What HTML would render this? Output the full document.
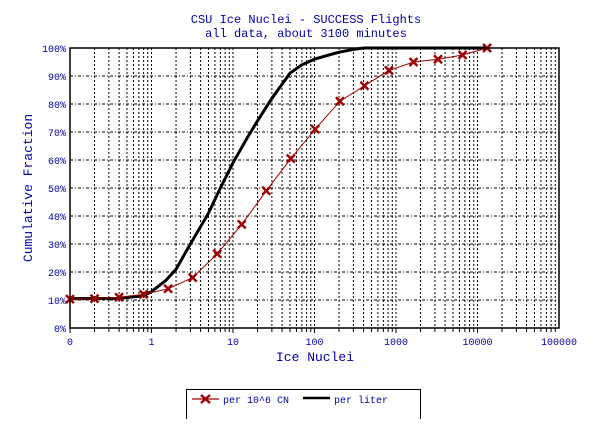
<!DOCTYPE html>
<html><head><meta charset="utf-8"><style>
body{margin:0;background:#fff;width:605px;height:419px;overflow:hidden}
svg text{font-family:"Liberation Mono",monospace;fill:#0000a8}
</style></head><body>
<svg id="chart" width="605" height="419" xmlns="http://www.w3.org/2000/svg">
<text x="306" y="23" font-size="12" text-anchor="middle">CSU Ice Nuclei - SUCCESS Flights</text>
<text x="306" y="37" font-size="12" text-anchor="middle">all data, about 3100 minutes</text>
<text x="315" y="361" font-size="13" text-anchor="middle">Ice Nuclei</text>
<text transform="translate(32,188) rotate(-90)" font-size="13" text-anchor="middle">Cumulative Fraction</text>
<g id="grid"></g><g id="ticks"></g><g id="series"></g>
<rect x="70" y="48" width="489" height="280" fill="none" stroke="#000" stroke-width="1.5"/>
<g>
<rect x="186.5" y="389.5" width="234" height="35" fill="#fff" stroke="#000"/>
<line x1="192" y1="399" x2="219" y2="399" stroke="#a00000" stroke-width="1.2"/>
<path d="M201 395 L210 403 M201 403 L210 395" stroke="#a00000" stroke-width="2.5"/>
<text x="223" y="403" font-size="10">per 10^6 CN</text>
<line x1="303" y1="398" x2="330" y2="398" stroke="#000" stroke-width="2.5"/>
<text x="334" y="403" font-size="10">per liter</text>
</g>
</svg>
<script>
const xTickLabels=["0","1","10","100","1000","10000","100000"];
const yTickLabels=["0%","10%","20%","30%","40%","50%","60%","70%","80%","90%","100%"];
const cnX=[0.1,0.2,0.4,0.8,1.6,3.2,6.4,12.8,25.6,51.2,102,205,410,819,1638,3277,6554,13107];
const cnY=[10.3,10.5,11,12,14,18,26.5,37,49,60.5,71,81,86.5,92,95,96,97.5,100];
const literX=[0.1,0.4,0.8,1,1.5,2,3,5,7,10,15,20,30,50,70,100,150,200,300,400,13107];
const literY=[10.5,10.6,11.5,13,17,21,30,41,50,59,68,74,82,91,94,96,97.5,98.5,99.5,100,100];
const X0=70,DEC=81.5,YB=328,YT=48;
function xs(v){return X0+DEC*(Math.log10(v)+1);}
function ys(p){return YB-(YB-YT)*p/100;}
const NS="http://www.w3.org/2000/svg";
function mk(t,a,p){const e=document.createElementNS(NS,t);for(const k in a)e.setAttribute(k,a[k]);p.appendChild(e);return e;}
const grid=document.getElementById('grid'),ticks=document.getElementById('ticks'),series=document.getElementById('series');
for(let d=-1;d<5;d++)for(let m=1;m<=9;m++){
 const x=xs(m*Math.pow(10,d));
 if(m>1||d>-1){const l=mk('line',{x1:x,y1:YT,x2:x,y2:YB,stroke:'#000','stroke-dasharray':'2,2'},grid);
 
 }
 const tk=mk('line',{x1:x,y1:YB,x2:x,y2:YB+(m==1?5:4),stroke:'#000'},ticks);
 
 
}
xTickLabels.forEach((s,i)=>{const t=mk('text',{x:X0+DEC*i,y:YB+17,'font-size':10,'text-anchor':'middle'},ticks);t.textContent=s;
 
 });
yTickLabels.forEach((s,i)=>{const y=ys(i*10);
 if(i>0&&i<10){const l=mk('line',{x1:X0,y1:y,x2:X0+489,y2:y,stroke:'#000','stroke-dasharray':'3,2,1,2'},grid);
 
 }
 const t=mk('text',{x:X0-4,y:y+4,'font-size':10,'text-anchor':'end'},ticks);t.textContent=s;
 
 });
const lp=mk('polyline',{points:literX.map((v,i)=>xs(v)+','+ys(literY[i])).join(' '),fill:'none',stroke:'#000','stroke-width':3},series);


const cp=mk('polyline',{points:cnX.map((v,i)=>xs(v)+','+ys(cnY[i])).join(' '),fill:'none',stroke:'#a00000','stroke-width':1},series);


cnX.forEach((v,i)=>{const x=xs(v),y=ys(cnY[i]);
 const m=mk('path',{d:`M${x-4} ${y-4}L${x+4} ${y+4}M${x-4} ${y+4}L${x+4} ${y-4}`,stroke:'#a00000','stroke-width':2.5},series);
 
 });
</script>
</body></html>
